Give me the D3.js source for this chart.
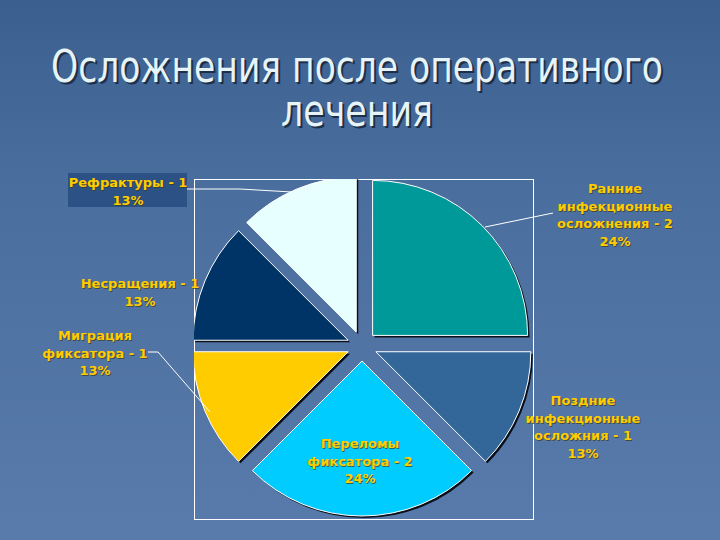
<!DOCTYPE html>
<html>
<head>
<meta charset="utf-8">
<script src="https://cdn.jsdelivr.net/npm/d3@7"></script>
<style>
  html, body { margin: 0; padding: 0; background: #4a6d9c; }
  svg { display: block; }
</style>
</head>
<body>
<div id="chart"></div>
<script>
const width = 720;
const height = 540;

// data
const categories = ["Ранние\nинфекционные\nосложнения", "Поздние\nинфекционные\nосложния", "Переломы\nфиксатора", "Миграция\nфиксатора", "Несращения", "Рефрактуры"];
const values = [2, 1, 2, 1, 1, 1];
const percents = ["24%", "13%", "24%", "13%", "13%", "13%"];
const colours = ["#009999", "#336699", "#00ccff", "#ffcc00", "#003366", "#e8ffff"];

// where each label sits (centre x, first baseline y) and its leader line
const labelPos = [
    { x: 615, y: 193, line: [[553, 213], [485, 227]] },
    { x: 583, y: 405, line: null },
    { x: 360, y: 448, line: null },
    { x: 95, y: 340, line: [[148, 352], [158, 352], [210, 412]] },
    { x: 140, y: 288, line: null },
    { x: 128, y: 187, line: [[187, 189], [240, 189], [292, 192]], box: [68, 173, 119, 34] }
];

const plot = { x: 194, y: 179, w: 339, h: 340 };
const cx = 362, cy = 346, radius = 155, explode = 15;

const svg = d3.select("#chart").append("svg")
    .attr("xmlns", "http://www.w3.org/2000/svg")
    .attr("width", width)
    .attr("height", height);

const defs = svg.append("defs");
const bg = defs.append("linearGradient").attr("id", "bg")
    .attr("x1", 0).attr("y1", 0).attr("x2", 0).attr("y2", 1);
bg.append("stop").attr("offset", "0%").attr("stop-color", "#3b5f8e");
bg.append("stop").attr("offset", "35%").attr("stop-color", "#4a6e9e");
bg.append("stop").attr("offset", "100%").attr("stop-color", "#587bab");

defs.append("clipPath").attr("id", "plotClip")
    .append("rect")
    .attr("x", plot.x).attr("y", plot.y)
    .attr("width", plot.w).attr("height", plot.h);

svg.append("rect").attr("width", width).attr("height", height).attr("fill", "url(#bg)");

// title
const title = svg.append("g")
    .attr("font-family", "'DejaVu Sans Condensed', 'DejaVu Sans', sans-serif")
    .attr("font-size", 44)
    .attr("text-anchor", "middle");
[["Осложнения после оперативного", 82, 612], ["лечения", 126, 152]].forEach(function (t) {
    title.append("text").attr("x", 359).attr("y", t[1] + 2)
        .attr("fill", "#1d2f48").attr("textLength", t[2]).attr("lengthAdjust", "spacingAndGlyphs")
        .text(t[0]);
    title.append("text").attr("x", 357).attr("y", t[1])
        .attr("fill", "#e6f4f7").attr("textLength", t[2]).attr("lengthAdjust", "spacingAndGlyphs")
        .text(t[0]);
});

// plot area frame
svg.append("rect")
    .attr("x", plot.x + 0.5).attr("y", plot.y + 0.5)
    .attr("width", plot.w).attr("height", plot.h)
    .attr("fill", "none").attr("stroke", "#ffffff").attr("stroke-width", 1);

const pie = d3.pie().sort(null).value(function (d) { return d; });
const arcs = pie(values);
const arc = d3.arc().innerRadius(0).outerRadius(radius);

function shift(d) {
    const a = (d.startAngle + d.endAngle) / 2;
    return [cx + Math.sin(a) * explode, cy - Math.cos(a) * explode];
}

const slices = svg.append("g").attr("clip-path", "url(#plotClip)");

// shadows
slices.selectAll(".shadow")
    .data(arcs)
    .enter()
    .append("path")
    .attr("class", "shadow")
    .attr("d", arc)
    .attr("fill", "#0a0f1a")
    .attr("transform", function (d) { const p = shift(d); return "translate(" + (p[0] + 2) + "," + (p[1] + 2) + ")"; });

slices.selectAll(".slice")
    .data(arcs)
    .enter()
    .append("path")
    .attr("class", "slice")
    .attr("d", arc)
    .attr("fill", function (d, i) { return colours[i]; })
    .attr("stroke", "#ffffff")
    .attr("stroke-width", 1)
    .attr("transform", function (d) { const p = shift(d); return "translate(" + p[0] + "," + p[1] + ")"; });

// leader lines
svg.selectAll(".leader")
    .data(labelPos.filter(function (p) { return p.line; }))
    .enter()
    .append("polyline")
    .attr("class", "leader")
    .attr("points", function (p) { return p.line.join(" "); })
    .attr("fill", "none")
    .attr("stroke", "#ffffff")
    .attr("stroke-width", 1);

// labels
const labels = svg.append("g")
    .attr("font-family", "'DejaVu Sans', Verdana, sans-serif")
    .attr("font-weight", "bold")
    .attr("font-size", 13)
    .attr("text-anchor", "middle");

categories.forEach(function (name, i) {
    const pos = labelPos[i];
    const lines = name.split("\n");
    lines[lines.length - 1] += " - " + values[i];
    lines.push(percents[i]);
    const g = labels.append("g");
    if (pos.box) {
        g.append("rect")
            .attr("x", pos.box[0]).attr("y", pos.box[1])
            .attr("width", pos.box[2]).attr("height", pos.box[3])
            .attr("fill", "#2b5185");
    }
    lines.forEach(function (txt, j) {
        g.append("text").attr("x", pos.x + 1).attr("y", pos.y + j * 17.5 + 1)
            .attr("fill", "#3a3a1a").attr("opacity", 0.7).text(txt);
        g.append("text").attr("x", pos.x).attr("y", pos.y + j * 17.5)
            .attr("fill", "#ffcc00").text(txt);
    });
});
</script>
</body>
</html>
